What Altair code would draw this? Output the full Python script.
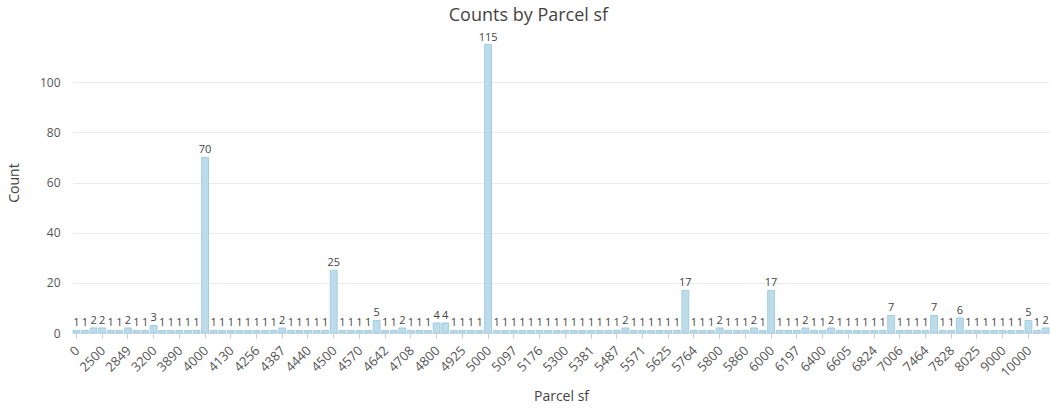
import altair as alt
import pandas as pd

# Category values (Parcel sf), in axis order. Only every third one is labelled on the axis.
parcel_sf = [
    0, 1500, 2000, 2500, 2600, 2700, 2849, 3000, 3100, 3200,
    3450, 3600, 3890, 3920, 3960, 4000, 4050, 4100, 4130, 4160,
    4200, 4256, 4300, 4350, 4387, 4400, 4420, 4440, 4460, 4480,
    4500, 4520, 4545, 4570, 4590, 4600, 4642, 4650, 4680, 4708,
    4725, 4750, 4800, 4875, 4900, 4925, 4950, 4980, 5000, 5040,
    5060, 5097, 5120, 5150, 5176, 5200, 5250, 5300, 5320, 5350,
    5381, 5400, 5450, 5487, 5500, 5540, 5571, 5590, 5600, 5625,
    5700, 5750, 5764, 5775, 5790, 5800, 5820, 5840, 5860, 5900,
    5950, 6000, 6050, 6100, 6197, 6250, 6300, 6400, 6500, 6550,
    6605, 6650, 6750, 6824, 6900, 7000, 7006, 7100, 7200, 7464,
    7500, 7600, 7828, 8000, 8010, 8025, 8100, 8500, 9000, 9200,
    9600, 10000, 10500, 12000,
]

counts = [
    1, 1, 2, 2, 1, 1, 2, 1, 1, 3,
    1, 1, 1, 1, 1, 70, 1, 1, 1, 1,
    1, 1, 1, 1, 2, 1, 1, 1, 1, 1,
    25, 1, 1, 1, 1, 5, 1, 1, 2, 1,
    1, 1, 4, 4, 1, 1, 1, 1, 115, 1,
    1, 1, 1, 1, 1, 1, 1, 1, 1, 1,
    1, 1, 1, 1, 2, 1, 1, 1, 1, 1,
    1, 17, 1, 1, 1, 2, 1, 1, 1, 2,
    1, 17, 1, 1, 1, 2, 1, 1, 2, 1,
    1, 1, 1, 1, 1, 7, 1, 1, 1, 1,
    7, 1, 1, 6, 1, 1, 1, 1, 1, 1,
    1, 5, 1, 2,
]

tick_labels = [
    0, 2500, 2849, 3200, 3890, 4000, 4130, 4256, 4387, 4440,
    4500, 4570, 4642, 4708, 4800, 4925, 5000, 5097, 5176, 5300,
    5381, 5487, 5571, 5625, 5764, 5800, 5860, 6000, 6197, 6400,
    6605, 6824, 7006, 7464, 7828, 8025, 9000, 10000,
]

y_ticks = [0, 20, 40, 60, 80, 100]

order = [str(v) for v in parcel_sf]
df = pd.DataFrame({"Parcel sf": order, "Count": counts})

FONT = "Open Sans"
TXT = "#444444"

base = alt.Chart(df).encode(
    x=alt.X(
        "Parcel sf:N",
        sort=order,
        scale=alt.Scale(paddingInner=0.2, paddingOuter=0),
        axis=alt.Axis(
            values=[str(v) for v in tick_labels],
            labelAngle=-45,
            labelFontSize=13,
            labelColor="#555555",
            labelFont=FONT,
            labelPadding=6,
            labelOffset=-3,
            tickColor="#cccccc",
            tickSize=5,
            domainColor="#dddddd",
            title="Parcel sf",
            titleFont=FONT,
            titleFontSize=14,
            titleFontWeight="normal",
            titleColor=TXT,
            titlePadding=10,
            grid=False,
        ),
    ),
    y=alt.Y(
        "Count:Q",
        scale=alt.Scale(domain=[0, 120], nice=False),
        axis=alt.Axis(
            values=y_ticks,
            labelFontSize=12,
            labelColor="#555555",
            labelFont=FONT,
            labelPadding=13,
            ticks=False,
            domain=False,
            gridColor="#ebebeb",
            title="Count",
            titleFont=FONT,
            titleFontSize=14,
            titleFontWeight="normal",
            titleColor=TXT,
            titlePadding=18,
        ),
    ),
)

bars = base.mark_bar(color="#bddcea", stroke="#a3cde1", strokeWidth=1)
labels = base.mark_text(dy=-7, fontSize=11, font=FONT, color=TXT).encode(text="Count:Q")

chart = (
    (bars + labels)
    .properties(
        width=976,
        height=301,
        title=alt.Title(
            "Counts by Parcel sf",
            font=FONT,
            fontSize=18,
            fontWeight="normal",
            color=TXT,
            anchor="middle",
            frame="bounds",
            offset=7,
        ),
        padding={"left": 7, "top": 6, "right": 0, "bottom": 5},
    )
    .configure_view(stroke=None)
)

chart.save("out.html", embed_options={"renderer": "svg", "actions": False})
